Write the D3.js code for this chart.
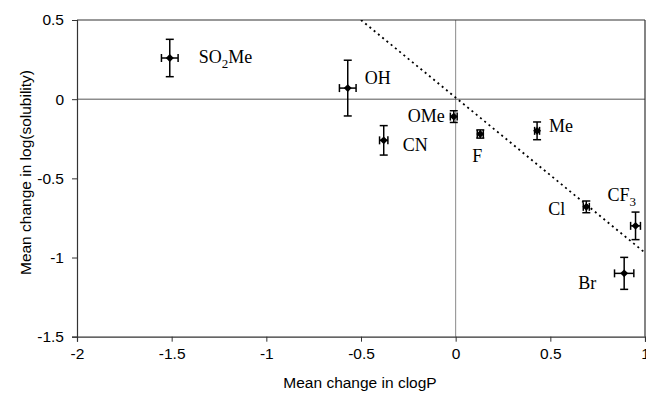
<!DOCTYPE html>
<html><head><meta charset="utf-8">
<script src="https://cdn.jsdelivr.net/npm/d3@7"></script>
<style>
html,body{margin:0;padding:0;background:#fff;}
svg{display:block;}
</style></head>
<body>
<svg id="chart" width="646" height="394"></svg>
<script>
const names = ["SO2Me","OH","CN","OMe","F","Me","Cl","CF3","Br"];
const xVals = [-1.51,-0.57,-0.38,-0.01,0.13,0.43,0.69,0.95,0.89];
const yVals = [0.26,0.07,-0.26,-0.11,-0.22,-0.20,-0.68,-0.80,-1.10];
const xErr  = [0.044,0.044,0.022,0.018,0.016,0.013,0.016,0.026,0.051];
const yErr  = [0.118,0.176,0.093,0.037,0.026,0.056,0.037,0.087,0.101];
const fitX = [-0.5, 1];
const fitY = [0.5, -0.97];
const xTicks = [-2,-1.5,-1,-0.5,0,0.5,1];
const yTicks = [0.5,0,-0.5,-1,-1.5];
const xTitle = "Mean change in clogP";
const yTitle = "Mean change in log(solubility)";
// label layout (pixel offsets from marker, anchor)
const labelLayout = [
  {dx:29,dy:5,a:"start"},{dx:17,dy:-4,a:"start"},{dx:19,dy:11,a:"start"},
  {dx:-9,dy:5.5,a:"end"},{dx:-8,dy:28,a:"start"},{dx:12,dy:1,a:"start"},
  {dx:-21,dy:8,a:"end"},{dx:-28,dy:-25,a:"start"},{dx:-46,dy:16,a:"start"}
];

const W=646,H=394;
const m={left:77,top:20,right:1,bottom:57.3};
const svg=d3.select("#chart");
const x=d3.scaleLinear().domain([-2,1]).range([m.left,W-m.right]);
const y=d3.scaleLinear().domain([-1.5,0.5]).range([H-m.bottom,m.top]);
const axisFont="'Liberation Sans', Arial, sans-serif";
const serif="'Liberation Serif','Times New Roman',serif";
const fmt=d=>String(d);

// zero lines
svg.append("line").attr("x1",x(0)).attr("x2",x(0)).attr("y1",y(0.5)).attr("y2",y(-1.5))
  .attr("stroke","#8a8a8a").attr("stroke-width",1);
svg.append("line").attr("x1",x(-2)).attr("x2",x(1)).attr("y1",y(0)).attr("y2",y(0))
  .attr("stroke","#555").attr("stroke-width",1);

// frame top/right
svg.append("line").attr("x1",x(-2)).attr("x2",x(1)).attr("y1",y(0.5)).attr("y2",y(0.5)).attr("stroke","#333").attr("stroke-width",1.2);
svg.append("line").attr("x1",x(1)).attr("x2",x(1)).attr("y1",y(0.5)).attr("y2",y(-1.5)).attr("stroke","#333").attr("stroke-width",1.2);

// axes
const gx=svg.append("g").attr("transform",`translate(0,${y(-1.5)})`)
  .call(d3.axisBottom(x).tickValues(xTicks).tickFormat(fmt).tickSize(5).tickPadding(6));
const gy=svg.append("g").attr("transform",`translate(${x(-2)},0)`)
  .call(d3.axisLeft(y).tickValues(yTicks).tickFormat(fmt).tickSize(5).tickPadding(8));
[gx,gy].forEach(g=>{
  g.select(".domain").attr("stroke","#333").attr("stroke-width",1.2);
  g.selectAll(".tick line").attr("stroke","#333");
  g.selectAll("text").attr("font-family",axisFont).attr("font-size","15.5px").attr("fill","#000");
});

// titles
svg.append("text").attr("x",360).attr("y",388).attr("text-anchor","middle")
  .attr("font-family",axisFont).attr("font-size","15.5px").text(xTitle);
svg.append("text").attr("transform",`translate(31,172.5) rotate(-90)`).attr("text-anchor","middle")
  .attr("font-family",axisFont).attr("font-size","15.5px").text(yTitle);

// fit line (clipped)
svg.append("clipPath").attr("id","clip").append("rect")
  .attr("x",x(-2)).attr("y",y(0.5)).attr("width",x(1)-x(-2)).attr("height",y(-1.5)-y(0.5));
svg.append("line").attr("clip-path","url(#clip)")
  .attr("x1",x(fitX[0])).attr("y1",y(fitY[0])).attr("x2",x(fitX[1])).attr("y2",y(fitY[1]))
  .attr("stroke","#000").attr("stroke-width",1.8).attr("stroke-dasharray","2,3.5");

// points
const data=names.map((n,i)=>({n,x:xVals[i],y:yVals[i],ex:xErr[i],ey:yErr[i],L:labelLayout[i]}));
const cap=4;
const g=svg.append("g").attr("stroke","#000").attr("stroke-width",1.5);
data.forEach(d=>{
  const px=x(d.x),py=y(d.y);
  const y1=y(d.y+d.ey),y2=y(d.y-d.ey),x1=x(d.x-d.ex),x2=x(d.x+d.ex);
  g.append("line").attr("x1",px).attr("x2",px).attr("y1",y1).attr("y2",y2);
  g.append("line").attr("x1",px-cap).attr("x2",px+cap).attr("y1",y1).attr("y2",y1);
  g.append("line").attr("x1",px-cap).attr("x2",px+cap).attr("y1",y2).attr("y2",y2);
  g.append("line").attr("x1",x1).attr("x2",x2).attr("y1",py).attr("y2",py);
  g.append("line").attr("x1",x1).attr("x2",x1).attr("y1",py-cap).attr("y2",py+cap);
  g.append("line").attr("x1",x2).attr("x2",x2).attr("y1",py-cap).attr("y2",py+cap);
});
svg.append("g").selectAll("path").data(data).join("path")
  .attr("d",d3.symbol(d3.symbolDiamond2,40))
  .attr("transform",d=>`translate(${x(d.x)},${y(d.y)})`).attr("fill","#000");

// labels with subscripts
const lab=svg.append("g").attr("font-family",serif).attr("font-size","18px").attr("fill","#000");
data.forEach(d=>{
  const t=lab.append("text").attr("x",x(d.x)+d.L.dx).attr("y",y(d.y)+d.L.dy).attr("text-anchor",d.L.a);
  const parts=d.n.match(/\d+|\D+/g);
  parts.forEach(p=>{
    if(/\d/.test(p)) t.append("tspan").attr("font-size","13px").attr("dy",5).text(p);
    else {
      const ts=t.append("tspan").text(p);
      if(t.selectAll("tspan").size()>1) ts.attr("dy",-5);
    }
  });
});
</script>
</body></html>
